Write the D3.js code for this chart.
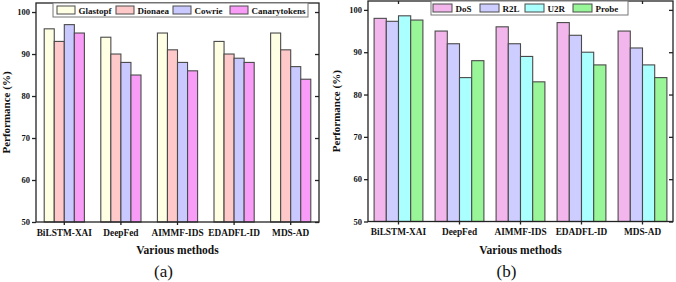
<!DOCTYPE html>
<html>
<head>
<meta charset="utf-8">
<script src="https://cdn.jsdelivr.net/npm/d3@7"></script>
<style>
  html, body { margin: 0; padding: 0; background: #fff; }
  svg { display: block; }
  text { font-family: "Liberation Serif", "Times New Roman", serif; }
</style>
</head>
<body>
<svg id="chart" width="676" height="282"></svg>
<script>
const methods = ["BiLSTM-XAI", "DeepFed", "AIMMF-IDS", "EDADFL-ID", "MDS-AD"];
const yTicks = [50, 60, 70, 80, 90, 100];

// Panel (a)
const seriesA = ["Glastopf", "Dionaea", "Cowrie", "Canarytokens"];
const glastopf = [96, 94, 95, 93, 95];
const dionaea = [93, 90, 91, 90, 91];
const cowrie = [97, 88, 88, 89, 87];
const canarytokens = [95, 85, 86, 88, 84];
const colorsA = ["#FFFFE4", "#FFC9C9", "#C9C9FF", "#F89CF8"];

// Panel (b)
const seriesB = ["DoS", "R2L", "U2R", "Probe"];
const dos = [98, 95, 96, 97, 95];
const r2l = [97.3, 92, 92, 94, 91];
const u2r = [98.6, 84, 89, 90, 87];
const probe = [97.6, 88, 83, 87, 84];
const colorsB = ["#F3B6EC", "#CDCDFF", "#AAFFFF", "#98F598"];

const svg = d3.select("#chart");

function panel(cfg) {
  const g = svg.append("g");
  const x = d3.scaleBand().domain(methods).range([cfg.x0, cfg.x1]).paddingInner(cfg.pad).paddingOuter(cfg.pad / 2);
  const y = d3.scaleLinear().domain([50, cfg.ymax]).range([cfg.yb, cfg.yt]);
  const xs = d3.scaleBand().domain(cfg.series).range([0, x.bandwidth()]);

  // bars
  cfg.values.forEach((vals, si) => {
    g.append("g").selectAll("rect").data(vals).join("rect")
      .attr("x", (d, i) => x(methods[i]) + xs(cfg.series[si]))
      .attr("y", d => y(d))
      .attr("width", xs.bandwidth())
      .attr("height", d => y(50) - y(d))
      .attr("fill", cfg.colors[si])
      .attr("stroke", "#4a4a4a")
      .attr("stroke-width", 1.1);
  });

  // frame
  g.append("rect").attr("x", cfg.x0).attr("y", cfg.yt).attr("width", cfg.x1 - cfg.x0).attr("height", cfg.yb - cfg.yt)
    .attr("fill", "none").attr("stroke", "#222").attr("stroke-width", 1.3);

  // left axis
  const ya = g.append("g").attr("transform", `translate(${cfg.x0},0)`)
    .call(d3.axisLeft(y).tickValues(yTicks).tickSize(4).tickSizeOuter(0).tickPadding(2));
  ya.select(".domain").remove();
  ya.selectAll("line").attr("stroke", "#222").attr("stroke-width", 1.3);
  ya.selectAll("text").attr("font-size", 8.5).attr("font-weight", "bold").attr("fill", "#111")
    .style("font-family", "'Liberation Serif', serif");

  // right axis (inward)
  const yr = g.append("g").attr("transform", `translate(${cfg.x1},0)`)
    .call(d3.axisRight(y).tickValues(yTicks).tickSize(-4).tickFormat(""));
  yr.select(".domain").remove();
  yr.selectAll("line").attr("stroke", "#222").attr("stroke-width", 1.3);

  // bottom axis
  const xa = g.append("g").attr("transform", `translate(0,${cfg.yb})`)
    .call(d3.axisBottom(x).tickSize(3).tickSizeOuter(0).tickPadding(4));
  xa.select(".domain").remove();
  xa.selectAll("line").attr("stroke", "#222").attr("stroke-width", 1.3);
  xa.selectAll("text").attr("font-size", 9.3).attr("font-weight", "bold").attr("fill", "#111")
    .style("font-family", "'Liberation Serif', serif");

  // top axis (inward)
  const xt = g.append("g").attr("transform", `translate(0,${cfg.yt})`)
    .call(d3.axisTop(x).tickSize(-3).tickFormat(""));
  xt.select(".domain").remove();
  xt.selectAll("line").attr("stroke", "#222").attr("stroke-width", 1.3);

  // legend
  const lg = g.append("g");
  lg.append("rect").attr("x", cfg.legX).attr("y", cfg.yt).attr("width", cfg.legW).attr("height", 14)
    .attr("fill", "#fff").attr("stroke", "#777").attr("stroke-width", 1);
  cfg.series.forEach((s, i) => {
    const lx = cfg.legItems[i];
    lg.append("rect").attr("x", lx).attr("y", cfg.yt + 3).attr("width", cfg.swW).attr("height", 8)
      .attr("fill", cfg.colors[i]).attr("stroke", "#4a4a4a").attr("stroke-width", 1);
    lg.append("text").attr("x", lx + cfg.swW + 3.5).attr("y", cfg.yt + 10.5)
      .attr("font-size", 9).attr("font-weight", "bold").attr("fill", "#111").text(s);
  });

  // axis titles
  g.append("text").attr("transform", `translate(${cfg.ylabX},${(cfg.yt + cfg.yb) / 2}) rotate(-90)`)
    .attr("text-anchor", "middle").attr("font-size", 11).attr("font-weight", "bold").attr("fill", "#111")
    .text("Performance (%)");
  g.append("text").attr("x", (cfg.x0 + cfg.x1) / 2).attr("y", 254)
    .attr("text-anchor", "middle").attr("font-size", 11.5).attr("font-weight", "bold").attr("fill", "#111")
    .text("Various methods");
  g.append("text").attr("x", (cfg.x0 + cfg.x1) / 2 - 14).attr("y", 277)
    .attr("text-anchor", "middle").attr("font-size", 17).attr("fill", "#111")
    .text(cfg.tag);
}

panel({
  x0: 36, x1: 319, yt: 3, yb: 222, ymax: 102.15, pad: 0.29,
  series: seriesA, values: [glastopf, dionaea, cowrie, canarytokens], colors: colorsA,
  legX: 53, legW: 255, legItems: [57, 116, 173, 230], swW: 18, ylabX: 10, tag: "(a)"
});

panel({
  x0: 368, x1: 673, yt: 1, yb: 221.5, ymax: 102.1, pad: 0.2,
  series: seriesB, values: [dos, r2l, u2r, probe], colors: colorsB,
  legX: 431, legW: 197, legItems: [433, 480, 525, 573], swW: 19, ylabX: 340, tag: "(b)"
});
</script>
</body>
</html>
